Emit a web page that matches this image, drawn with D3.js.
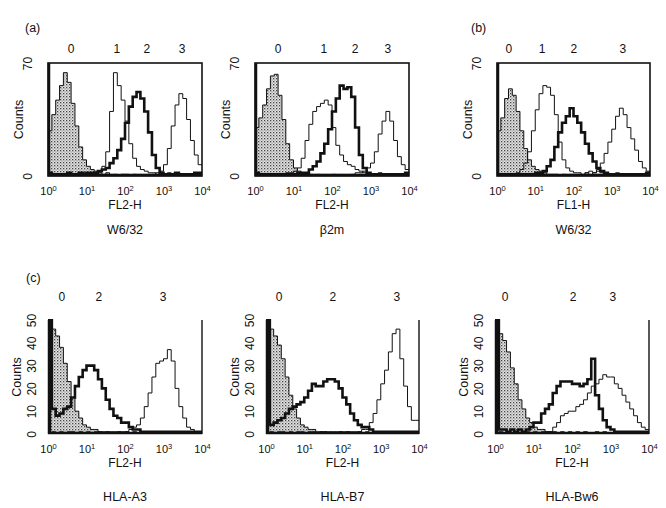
<!DOCTYPE html>
<html>
<head>
<meta charset="utf-8">
<script src="https://cdn.jsdelivr.net/npm/d3@7"></script>
<style>
  html, body { margin: 0; padding: 0; background: #fff; }
  svg { display: block; }
  text { font-family: "Liberation Sans", Arial, Helvetica, sans-serif; fill: #111; }
</style>
</head>
<body>
<svg id="chart" width="666" height="508"></svg>
<script>
// ---------- DATA (40 log bins, 10 per decade, 10^0 .. 10^4) ----------
const xTickValues = [1, 10, 100, 1000, 10000];
const xTickExponents = ["0", "1", "2", "3", "4"];
const yTicksTop = [0, 70];
const yTicksBottom = [0, 10, 20, 30, 40, 50];
const panelTitles = ["W6/32", "\u03B22m", "W6/32", "HLA-A3", "HLA-B7", "HLA-Bw6"];
const panelXLabels = ["FL2-H", "FL2-H", "FL1-H", "FL2-H", "FL2-H", "FL2-H"];
const sectionLetters = ["(a)", "(b)", "(c)"];

// peak label names and their positions (log10 units)
const peakNamesTop = ["0", "1", "2", "3"];
const peakNamesBottom = ["0", "2", "3"];
const peakPosA = [0.6, 1.79, 2.57, 3.48];
const peakPosB = [0.6, 1.79, 2.6, 3.45];
const peakPosC = [0.31, 1.18, 2.01, 3.29];
const peakPosD = [0.36, 1.32, 2.99];
const peakPosE = [0.34, 1.75, 3.42];
const peakPosF = [0.26, 2.03, 3.06];

// Panel (a) W6/32 FL2-H
const aCtrl = [28,38,47,56,64,58,45,31,18,10,6,4,3,2,1,2,1,1,0,1,1,0,1,0,1,0,0,1,0,1,0,0,1,0,0,1,0,0,1,0];
const aS1   = [1,0,1,0,1,1,0,1,1,2,1,2,2,3,6,15,40,64,56,47,34,20,11,6,4,3,2,2,1,1,1,2,1,1,0,1,1,0,1,1];
const aS2   = [2,1,1,1,1,2,1,1,2,1,2,2,2,3,4,5,8,11,16,23,33,43,49,52,48,40,27,13,5,2,1,1,1,2,1,1,1,1,2,2];
const aS3   = [0,1,0,0,1,0,1,0,0,1,0,1,0,0,1,1,0,1,0,1,1,0,1,1,0,1,1,1,2,3,7,17,31,44,51,48,35,22,13,7];

// Panel beta2m FL2-H
const bCtrl = [30,36,44,54,62,63,50,35,20,10,5,3,2,2,1,1,1,0,1,0,1,0,1,0,0,1,0,1,0,0,1,0,0,1,0,0,1,0,0,1];
const bS1   = [1,0,1,1,0,1,1,1,2,2,3,5,11,22,32,40,43,45,47,44,30,19,13,9,7,6,4,3,2,2,1,1,2,1,1,1,0,1,1,1];
const bS2   = [2,1,1,1,1,1,1,1,1,1,1,2,2,2,4,6,9,14,20,29,40,48,56,54,55,49,30,13,5,2,1,1,1,1,1,1,1,1,1,2];
const bS3   = [0,1,0,1,0,0,1,0,1,0,0,1,0,1,1,0,1,1,0,1,1,1,0,1,1,1,2,2,3,5,8,15,26,34,40,34,22,12,7,4];

// Panel (b) W6/32 FL1-H
const cCtrl = [28,36,48,54,50,40,28,17,10,6,4,3,2,1,1,1,0,1,0,1,0,1,0,1,0,0,1,0,0,1,0,1,0,0,1,0,0,1,0,0];
const cS1   = [0,1,0,1,1,2,4,8,15,28,41,51,56,55,50,38,21,10,5,3,2,2,1,2,3,2,3,2,2,1,1,2,1,1,1,1,1,0,1,1];
const cS2   = [1,1,1,1,1,1,1,1,1,1,2,2,3,6,10,18,27,33,37,42,37,33,27,20,14,9,5,3,2,1,1,1,1,1,1,1,1,1,1,2];
const cS3   = [0,1,0,0,1,0,1,0,1,0,1,1,0,1,1,1,0,1,1,1,1,1,1,2,1,2,4,8,14,21,29,37,42,38,30,23,16,9,5,3];

// Panel HLA-A3
const dCtrl = [50,46,43,38,31,23,16,10,7,4,3,2,2,1,1,1,1,0,1,0,1,0,1,0,0,1,0,1,0,0,1,0,0,1,0,0,1,0,0,1];
const dS2   = [60,11,8,9,11,12,16,21,25,28,30,30,28,24,20,15,11,8,7,5,5,3,2,2,1,1,1,1,1,1,1,1,1,1,1,1,1,1,1,1];
const dS3   = [0,1,0,1,0,1,1,0,1,0,1,0,1,1,0,1,0,1,1,1,1,2,3,4,7,12,18,25,31,32,33,37,32,20,12,7,3,2,1,1];

// Panel HLA-B7
const eCtrl = [44,46,43,39,33,25,17,11,7,4,3,2,2,1,1,1,0,1,0,1,0,1,0,0,1,0,1,0,0,1,0,0,1,0,1,0,0,1,0,1];
const eS2   = [60,4,5,6,7,9,11,12,13,14,16,19,22,21,21,23,24,24,23,20,16,13,9,6,4,3,3,2,1,1,1,1,1,1,1,1,1,1,1,1];
const eS3   = [0,1,0,1,1,0,1,0,1,1,0,1,1,0,1,1,1,0,1,1,1,1,1,1,1,2,2,5,9,15,22,28,36,44,46,33,21,12,6,6];

// Panel HLA-Bw6
const fCtrl = [48,44,41,36,29,22,15,11,7,5,3,2,2,1,1,1,0,1,0,1,0,1,0,1,0,0,1,0,1,0,0,1,0,0,1,0,1,0,0,1];
const fS2   = [60,2,2,1,2,1,2,1,2,3,5,5,9,11,13,18,21,23,23,23,22,22,21,22,24,33,17,11,6,3,2,1,1,1,1,1,1,1,1,1];
const fS3   = [0,1,0,1,0,1,0,1,1,0,1,0,1,1,1,3,5,8,9,10,10,12,13,15,18,21,22,24,26,25,25,22,20,17,14,11,8,5,3,2];

// ---------- LAYOUT ----------
const panels = [
  {x0: 48,  x1: 202, y0: 63,  y1: 176, ymax: 70, yticks: yTicksTop, top: true,  ctrl: aCtrl, thin: [aS1, aS3], thick: aS2, peaks: peakPosA, names: peakNamesTop, title: panelTitles[0], xlab: panelXLabels[0]},
  {x0: 255, x1: 409, y0: 63,  y1: 176, ymax: 70, yticks: yTicksTop, top: true,  ctrl: bCtrl, thin: [bS1, bS3], thick: bS2, peaks: peakPosB, names: peakNamesTop, title: panelTitles[1], xlab: panelXLabels[1]},
  {x0: 497, x1: 650, y0: 63,  y1: 176, ymax: 70, yticks: yTicksTop, top: true,  ctrl: cCtrl, thin: [cS1, cS3], thick: cS2, peaks: peakPosC, names: peakNamesTop, title: panelTitles[2], xlab: panelXLabels[2]},
  {x0: 48,  x1: 202, y0: 320, y1: 434, ymax: 50, yticks: yTicksBottom, top: false, ctrl: dCtrl, thin: [dS3], thick: dS2, peaks: peakPosD, names: peakNamesBottom, title: panelTitles[3], xlab: panelXLabels[3]},
  {x0: 266, x1: 419, y0: 320, y1: 434, ymax: 50, yticks: yTicksBottom, top: false, ctrl: eCtrl, thin: [eS3], thick: eS2, peaks: peakPosE, names: peakNamesBottom, title: panelTitles[4], xlab: panelXLabels[4]},
  {x0: 495, x1: 649, y0: 320, y1: 434, ymax: 50, yticks: yTicksBottom, top: false, ctrl: fCtrl, thin: [fS3], thick: fS2, peaks: peakPosF, names: peakNamesBottom, title: panelTitles[5], xlab: panelXLabels[5]}
];
const letterPos = [{x: 25, y: 32}, {x: 471, y: 32}, {x: 26, y: 282}];

const svg = d3.select("#chart");
const defs = svg.append("defs");
const pat = defs.append("pattern").attr("id", "stipple")
  .attr("patternUnits", "userSpaceOnUse").attr("width", 3).attr("height", 3);
pat.append("rect").attr("width", 3).attr("height", 3).attr("fill", "#e4e4e4");
pat.append("rect").attr("x", 0).attr("y", 0).attr("width", 1.3).attr("height", 1.3).attr("fill", "#444");
pat.append("rect").attr("x", 1.5).attr("y", 1.5).attr("width", 1.1).attr("height", 1.1).attr("fill", "#777");

function toPoints(arr) {
  const pts = [{x: 1, v: arr[0]}];
  arr.forEach((v, i) => pts.push({x: Math.pow(10, i / 10 + 0.05), v}));
  pts.push({x: 10000, v: arr[arr.length - 1]});
  return pts;
}

panels.forEach((p, pi) => {
  const x = d3.scaleLog().domain([1, 10000]).range([p.x0, p.x1]);
  const y = d3.scaleLinear().domain([0, p.ymax]).range([p.y1, p.y0]).clamp(true);
  const g = svg.append("g");
  const clipId = "clip" + pi;
  defs.append("clipPath").attr("id", clipId).append("rect")
    .attr("x", p.x0).attr("y", p.y0 - 1).attr("width", p.x1 - p.x0).attr("height", p.y1 - p.y0 + 1);
  const plot = g.append("g").attr("clip-path", `url(#${clipId})`);

  const area = d3.area().x(d => x(d.x)).y0(y(0)).y1(d => y(d.v)).curve(d3.curveStep);
  const line = d3.line().x(d => x(d.x)).y(d => y(d.v)).curve(d3.curveStep);

  plot.append("path").datum(toPoints(p.ctrl)).attr("d", area).attr("fill", "url(#stipple)");
  plot.append("path").datum(toPoints(p.ctrl)).attr("d", line).attr("fill", "none").attr("stroke", "#111").attr("stroke-width", 1);
  p.thin.forEach(s => {
    plot.append("path").datum(toPoints(s)).attr("d", line).attr("fill", "none").attr("stroke", "#111").attr("stroke-width", 1);
  });
  plot.append("path").datum(toPoints(p.thick)).attr("d", line).attr("fill", "none").attr("stroke", "#111").attr("stroke-width", 2.6);

  // frame
  if (p.top) {
    g.append("rect").attr("x", p.x0).attr("y", p.y0).attr("width", p.x1 - p.x0).attr("height", p.y1 - p.y0)
      .attr("fill", "none").attr("stroke", "#111").attr("stroke-width", 1.6);
    g.append("line").attr("x1", p.x0 + 1).attr("x2", p.x0 + 1).attr("y1", p.y0).attr("y2", p.y1)
      .attr("stroke", "#111").attr("stroke-width", 2.5);
    g.append("line").attr("x1", p.x0).attr("x2", p.x1).attr("y1", p.y1 - 1).attr("y2", p.y1 - 1)
      .attr("stroke", "#111").attr("stroke-width", 2.5);
  } else {
    g.append("line").attr("x1", p.x0 + 1.5).attr("x2", p.x0 + 1.5).attr("y1", p.y0).attr("y2", p.y1)
      .attr("stroke", "#111").attr("stroke-width", 3.5);
    g.append("line").attr("x1", p.x1).attr("x2", p.x1).attr("y1", p.y0).attr("y2", p.y1)
      .attr("stroke", "#111").attr("stroke-width", 1.4);
    g.append("line").attr("x1", p.x0).attr("x2", p.x1).attr("y1", p.y1 - 1).attr("y2", p.y1 - 1)
      .attr("stroke", "#111").attr("stroke-width", 2.5);
  }

  // x axis
  const xAxis = d3.axisBottom(x).tickValues(xTickValues).tickSize(0).tickFormat(() => "");
  const xg = g.append("g").attr("transform", `translate(0,${p.y1})`).call(xAxis);
  xg.select(".domain").remove();
  xg.selectAll(".tick text").each(function(d, i) {
    const t = d3.select(this);
    t.attr("y", 19).attr("dy", 0).attr("font-size", 11).attr("fill", "#111").attr("font-family", null);
    t.append("tspan").text("10");
    t.append("tspan").text(xTickExponents[i]).attr("font-size", 7.5).attr("dy", -4.5);
  });

  // y axis
  const yAxis = d3.axisLeft(y).tickValues(p.yticks).tickSize(0);
  const yg = g.append("g").attr("transform", `translate(${p.x0},0)`).call(yAxis);
  yg.select(".domain").remove();
  const yoff = p.top ? 20 : 16;
  yg.selectAll(".tick text")
    .attr("transform", "rotate(-90)")
    .attr("x", 0).attr("y", -yoff).attr("dy", "0.35em")
    .attr("text-anchor", "middle").attr("font-size", 12).attr("fill", "#111").attr("font-family", null);

  // axis labels
  g.append("text").attr("transform", `translate(${p.x0 - (p.top ? 29 : 31)},${(p.y0 + p.y1) / 2}) rotate(-90)`)
    .attr("text-anchor", "middle").attr("dy", "0.35em").attr("font-size", 12.5).text("Counts");
  g.append("text").attr("x", (p.x0 + p.x1) / 2).attr("y", p.y1 + 33)
    .attr("text-anchor", "middle").attr("font-size", 12).text(p.xlab);
  g.append("text").attr("x", (p.x0 + p.x1) / 2).attr("y", p.y1 + (p.top ? 58 : 67))
    .attr("text-anchor", "middle").attr("font-size", 12.5).text(p.title);

  // peak labels
  p.peaks.forEach((lp, i) => {
    g.append("text").attr("x", x(Math.pow(10, lp))).attr("y", p.top ? 53 : 301)
      .attr("text-anchor", "middle").attr("font-size", 12).text(p.names[i]);
  });
});

sectionLetters.forEach((s, i) => {
  svg.append("text").attr("x", letterPos[i].x).attr("y", letterPos[i].y).attr("font-size", 12.5).text(s);
});
</script>
</body>
</html>
